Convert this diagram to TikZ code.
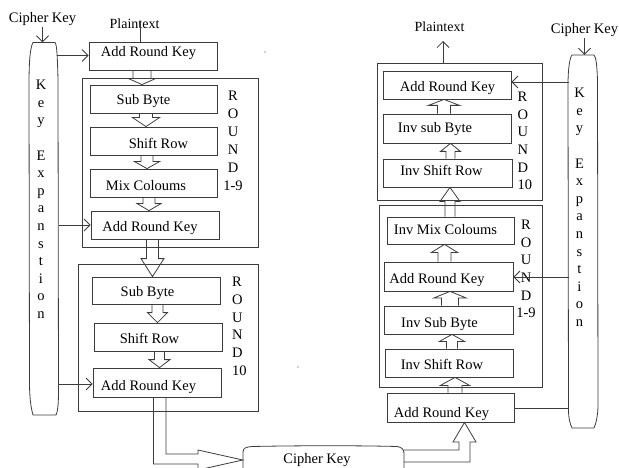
\documentclass[tikz,border=0pt]{standalone}
\usepackage{fontspec}
\setmainfont{Liberation Serif}
\usetikzlibrary{arrows.meta,calc}
\definecolor{lc}{RGB}{60,60,60}
\newcommand\mybox[8]{%
 \pgfmathsetmacro\bxw{#4-#2}\pgfmathsetmacro\bxh{#5-#3}%
 \pgfmathsetmacro\bxx{(#2+#4)/2}\pgfmathsetmacro\bxy{(#3+#5)/2}%
 \node[bx, minimum width=\bxw pt, minimum height=\bxh pt] (#1) at (\bxx,\bxy) {};%
 \node[txt, anchor=base] (#1t) at (#6,#7) {#8};}
\newcommand\myobox[5]{%
 \pgfmathsetmacro\bxw{#4-#2}\pgfmathsetmacro\bxh{#5-#3}%
 \pgfmathsetmacro\bxx{(#2+#4)/2}\pgfmathsetmacro\bxy{(#3+#5)/2}%
 \node[bx, minimum width=\bxw pt, minimum height=\bxh pt] (#1) at (\bxx,\bxy) {};}
\newcommand\blkdown[6]{%
 \draw[blk] let \p1=(#5), \p2=(#6) in
 ({#1pt-#2pt},\y1) -- ({#1pt-#2pt},{\y2+#4pt}) -- ({#1pt-#3pt},{\y2+#4pt}) -- (#1pt,\y2)
 -- ({#1pt+#3pt},{\y2+#4pt}) -- ({#1pt+#2pt},{\y2+#4pt}) -- ({#1pt+#2pt},\y1);}
\newcommand\blkup[6]{%
 \draw[blk] let \p1=(#5), \p2=(#6) in
 ({#1pt-#2pt},\y1) -- ({#1pt-#2pt},{\y2-#4pt}) -- ({#1pt-#3pt},{\y2-#4pt}) -- (#1pt,\y2)
 -- ({#1pt+#3pt},{\y2-#4pt}) -- ({#1pt+#2pt},{\y2-#4pt}) -- ({#1pt+#2pt},\y1);}
\tikzset{
 ln/.style={draw=lc, line width=0.8pt},
 arr/.style={ln, -{Straight Barb[length=6pt,width=12pt]}},
 bx/.style={draw=lc, line width=0.8pt, inner sep=0pt, rectangle},
 ibx/.style={draw=none, inner sep=0pt, rectangle},
 blk/.style={draw=lc, line width=0.8pt, line join=miter},
 txt/.style={font=\fontsize{14.5}{17}\selectfont, inner sep=1pt, text=black},
 stack/.style={txt, inner sep=0pt},
}
\begin{document}
\begin{tikzpicture}[x=1pt,y=-1pt]
\useasboundingbox (0,0) rectangle (619,468);
\clip (0,0) rectangle (619,468);

% ---------- left key expansion ----------
\node[ibx, minimum width=29pt, minimum height=372.5pt] (kexpL) at (43.5,228.75) {};
\draw[ln] (33,42.5) -- (55,42.5) .. controls (57,44) and (57.5,60) .. (58,80) -- (58.5,392)
  .. controls (58.5,405) and (57.5,412) .. (56,415) -- (33,415)
  .. controls (30.5,406) and (29.5,396) .. (29.5,382) -- (29,85)
  .. controls (29,62) and (30,48) .. (33,42.5) -- cycle;
\node[stack, align=center, anchor=north, font=\fontsize{14.5}{17.6}\selectfont] (kexpLt) at (41,80)
  {K\\e\\y\\\mbox{}\\E\\x\\p\\a\\n\\s\\t\\i\\o\\n};
\node[txt, anchor=base] (ckL) at (42.5,23) {Cipher Key};
\draw[arr] (ckL.south) -- (ckL.south |- kexpL.north);

% ---------- right key expansion ----------
\node[ibx, minimum width=30pt, minimum height=373pt] (kexpR) at (583,241.5) {};
\draw[ln] (572,55) -- (594,55) .. controls (596,57) and (597,65) .. (597.5,80) -- (598,405)
  .. controls (598,415) and (596,424) .. (594,428) -- (572,428)
  .. controls (570,424) and (568.5,418) .. (568.5,410) -- (568,85)
  .. controls (568,70) and (569.5,58) .. (572,55) -- cycle;
\node[stack, align=center, anchor=north, font=\fontsize{14.5}{17.6}\selectfont] (kexpRt) at (579.5,88)
  {K\\e\\y\\\mbox{}\\E\\x\\p\\a\\n\\s\\t\\i\\o\\n};
\node[txt, anchor=base] (ckR) at (584.5,34) {Cipher Key};
\draw[arr] (ckR.south) -- (ckR.south |- kexpR.north);

% ---------- left (encryption) ----------
\node[txt, anchor=base, font=\fontsize{14}{16}\selectfont] (ptL) at (134.5,29) {Plaintext};
\mybox{ark1}{89}{42}{217}{70}{148.5}{57}{Add Round Key}
\coordinate (ptLl) at (140,21);
\draw[ln] (ptLl) -- (ptLl |- ark1.north);

\myobox{r19L}{82}{78}{258}{247}
\mybox{sb1}{90}{85}{217}{113}{143.5}{105}{Sub Byte}
\mybox{sr1}{90}{127}{217}{155}{158.5}{149}{Shift Row}
\mybox{mc1}{90}{169}{217}{197}{146}{190}{Mix Coloums}
\mybox{ark2}{91}{211}{219}{239}{150}{232}{Add Round Key}
\node[stack, align=center, anchor=north, font=\fontsize{14.5}{17.9}\selectfont] (rdL1) at (233,91) {R\\O\\U\\N\\D\\1-9};

\myobox{r10L}{78}{264}{258}{411}
\mybox{sb2}{92}{277}{220}{304}{147.5}{296}{Sub Byte}
\mybox{sr2}{94}{323}{222}{351}{149.5}{343}{Shift Row}
\mybox{ark3}{93}{368}{221}{397}{148.5}{390}{Add Round Key}
\node[stack, align=left, anchor=north west, font=\fontsize{14.5}{17.7}\selectfont] (rdL2) at (232,277) {R\\O\\U\\N\\D\\10};

\blkdown{142}{9}{13.5}{6}{ark1.south}{sb1.north}
\blkdown{146}{6.5}{13.5}{9}{sb1.south}{sr1.north}
\blkdown{147}{6}{12.5}{7}{sr1.south}{mc1.north}
\blkdown{149}{6}{12}{7}{mc1.south}{ark2.north}
\blkdown{152.5}{6}{11.5}{18}{ark2.south}{sb2.north}
\blkdown{157.5}{5.5}{10}{10}{sb2.south}{sr2.north}
\blkdown{159.5}{5}{10.5}{8}{sr2.south}{ark3.north}

\coordinate (kl1) at (57,55.5);
\draw[arr] (kl1) -- (kl1 -| ark1.west);
\coordinate (kl2) at (58.5,225);
\draw[arr] (kl2) -- (kl2 -| ark2.west);
\coordinate (kl3) at (58.5,384);
\draw[arr] (kl3) -- (kl3 -| ark3.west);

% ---------- bottom cipher key ----------
\node[ibx, minimum width=161pt, minimum height=27pt] (ckB) at (323.5,460) {};
\draw[ln] (243,472) -- (243,452) .. controls (243,448) and (246,447) .. (252,446.5)
  .. controls (300,445.5) and (360,445.5) .. (397,446.5)
  .. controls (401,447) and (404,449) .. (404,453) -- (404,472);
\node[txt, anchor=base] (ckBt) at (317,463.5) {Cipher Key};

\draw[blk] let \p1=(ark3.south), \p2=(ckB.west) in
  (153.5pt,\y1) -- (153.5pt,{\y2-4pt}) -- (198pt,{\y2-4pt}) -- (198pt,{\y2-10pt}) -- (\x2,\y2)
  -- (198pt,{\y2+10pt}) -- (198pt,{\y2+6pt}) -- (166pt,{\y2+6pt}) -- (166pt,\y1);

% ---------- right (decryption) ----------
\node[txt, anchor=base, font=\fontsize{14}{16}\selectfont] (ptR) at (439.5,32) {Plaintext};
\myobox{r10R}{377}{63}{542}{200}
\coordinate (prt) at (443,41);
\draw[arr] (prt |- r10R.north) -- (prt);
\mybox{iark1}{383}{71}{511}{99}{447.5}{92}{Add Round Key}
\mybox{isb1}{383}{114}{511}{143}{435}{133}{Inv sub Byte}
\mybox{isr1}{383}{159}{512}{187}{441.5}{176}{Inv Shift Row}
\node[stack, align=left, anchor=north west, font=\fontsize{14.5}{17.6}\selectfont] (rdR1) at (517.5,92) {R\\O\\U\\N\\D\\10};

\myobox{r19R}{379}{205}{542}{387}
\mybox{imc}{387}{217}{514}{244}{445.5}{235}{Inv Mix Coloums}
\mybox{iark2}{384}{262}{513}{291}{437}{283}{Add Round Key}
\mybox{isb2}{384}{306}{513}{334}{439.5}{327}{Inv Sub Byte}
\mybox{isr2}{385}{349}{513}{377}{442}{369}{Inv Shift Row}
\node[stack, align=center, anchor=north, font=\fontsize{14.5}{17.6}\selectfont] (rdR2) at (526,220) {R\\O\\U\\N\\D\\1-9};
\mybox{iark3}{387}{393}{514}{422}{441.5}{417}{Add Round Key}

\blkup{444}{6.5}{15.5}{6}{isb1.north}{iark1.south}
\blkup{450.5}{4.5}{10}{8}{isr1.north}{isb1.south}
\blkup{450}{5}{10}{14}{imc.north}{isr1.south}
\blkup{444.5}{6.5}{13}{8}{iark2.north}{imc.south}
\blkup{450}{8.5}{16}{6.5}{isb2.north}{iark2.south}
\blkup{452}{5.5}{12.5}{7}{isr2.north}{isb2.south}
\blkup{455}{7}{14.5}{8}{iark3.north}{isr2.south}

\coordinate (kr1) at (568.5,82);
\draw[arr] (kr1) -- (kr1 -| iark1.east);
\coordinate (kr2) at (568.5,277);
\draw[arr] (kr2) -- (kr2 -| iark2.east);
\coordinate (kr3) at (568.5,408);
\draw[ln] (iark3.east |- kr3) -- (kr3);

\draw[blk] let \p1=(ckB.east), \p2=(iark3.south) in
  (\x1,-450pt) -- (459pt,-450pt) -- (459pt,-442pt) -- (453pt,-442pt) -- (464.5pt,\y2)
  -- (476pt,-442pt) -- (470pt,-442pt) -- (470pt,-462pt) -- (\x1,-462pt);

% stray dots
\fill[lc] (265,52) circle (0.7);
\fill[lc] (298,367) circle (0.7);
\end{tikzpicture}
\end{document}
